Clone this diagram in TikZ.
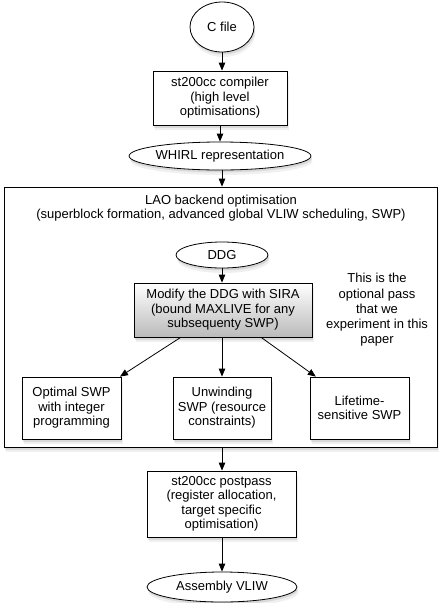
\documentclass[tikz,border=0pt]{standalone}
\usepackage{fontspec}
\setmainfont{Liberation Sans}
\usetikzlibrary{shapes.geometric,shadows,arrows.meta}
\tikzset{
  base/.style={draw=black, line width=0.8pt, fill=white, align=center, inner sep=0pt,
    font=\fontsize{13}{14.5}\selectfont,
    drop shadow={opacity=0.12, shadow xshift=1.5pt, shadow yshift=-5pt},
    drop shadow={opacity=0.2, shadow xshift=1pt, shadow yshift=-2.5pt}},
  box/.style={base, rectangle},
  oval/.style={base, ellipse},
  plain/.style={align=center, inner sep=0pt, font=\fontsize{13}{14.5}\selectfont},
  arr/.style={-{Triangle[length=8pt,width=6.5pt]}, line width=0.8pt},
}
\begin{document}
\begin{tikzpicture}[x=1pt,y=-1pt]
\useasboundingbox (0,0) rectangle (441,603);
\node[oval, minimum width=64pt, minimum height=50pt] (cfile) at (222,27) {C file};
\node[box, minimum width=134pt, minimum height=54pt] (comp) at (220,98) {st200cc compiler\\(high level\\optimisations)};
\node[oval, minimum width=164pt, minimum height=28pt] (whirl) at (220,156) {WHIRL representation};
\node[box, minimum width=433pt, minimum height=260pt] (lao) at (220.5,317) {};
\node[plain, font=\fontsize{13}{14}\selectfont] (title) at (221,208) {LAO backend optimisation\\(superblock formation, advanced global VLIW scheduling, SWP)};
\node[oval, minimum width=92pt, minimum height=26pt] (ddg) at (222,255) {DDG};
\node[box, minimum width=178pt, minimum height=54pt, top color=white, bottom color=black!27] (sira) at (223,310) {Modify the DDG with SIRA\\(bound MAXLIVE for any\\subsequenty SWP)};
\node[plain, font=\fontsize{13}{15.2}\selectfont] (note) at (377,310) {This is the\\optional pass\\that we\\experiment in this\\paper};
\node[box, minimum width=99pt, minimum height=62pt] (opt) at (71.5,408) {Optimal SWP\\with integer\\programming};
\node[box, minimum width=98pt, minimum height=62pt] (unw) at (222,408) {Unwinding\\SWP (resource\\constraints)};
\node[box, minimum width=99pt, minimum height=62pt] (life) at (359.5,408) {Lifetime-\\sensitive SWP};
\node[box, minimum width=149pt, minimum height=66pt] (post) at (221.5,504) {st200cc postpass\\(register allocation,\\target specific\\optimisation)};
\node[oval, minimum width=150pt, minimum height=30pt] (asm) at (222,587) {Assembly VLIW};
\draw[arr] (cfile) -- (cfile |- comp.north);
\draw[arr] (comp) -- (comp |- whirl.north);
\draw[arr] (whirl.south -| cfile) -- (cfile |- lao.north);
\draw[arr] (ddg) -- (ddg |- sira.north);
\draw[arr] (sira) -- (opt);
\draw[arr] (sira.south -| unw) -- (unw);
\draw[arr] (sira) -- (life);
\draw[arr] (lao.south -| cfile) -- (cfile |- post.north);
\draw[arr] (post.south -| cfile) -- (asm);
\end{tikzpicture}
\end{document}
